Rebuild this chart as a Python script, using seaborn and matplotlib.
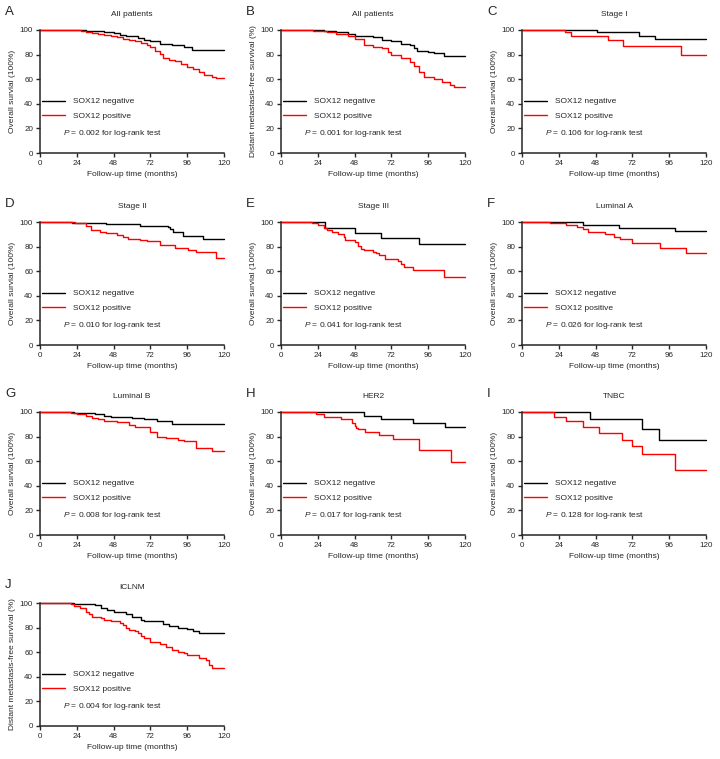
import numpy as np
import pandas as pd
import seaborn as sns
import matplotlib.pyplot as plt
from matplotlib.lines import Line2D

# step points (month, survival %); last value held to 120
A_neg_t = [0, 30, 36, 42, 48, 52, 56, 64, 68, 72, 78, 86, 94, 99]
A_neg_s = [100, 99.5, 99, 98, 97.5, 96, 95, 93.5, 92, 91, 89, 87.5, 86, 83.5]
A_pos_t = [0, 27, 30, 34, 38, 42, 46, 50, 54, 58, 62, 66, 70, 72, 75, 78, 80, 84, 88, 92, 96, 100, 104, 107, 112, 115]
A_pos_s = [100, 99.5, 98.5, 97.5, 97, 96, 95, 94, 93, 92, 91, 89.5, 87.5, 86.5, 83, 80.5, 77, 75.5, 74.5, 72, 70, 68.5, 66, 63.5, 62, 60.8]

B_neg_t = [0, 28, 36, 44, 48, 60, 66, 72, 78, 84, 87, 89, 96, 100, 106]
B_neg_s = [100, 99.5, 98.5, 97, 95.5, 94, 92, 91, 89, 87.5, 85.5, 83, 82, 81, 79]
B_pos_t = [0, 21, 24, 30, 36, 44, 48, 54, 60, 66, 70, 72, 78, 84, 87, 90, 93, 100, 105, 110, 113]
B_pos_s = [100, 99.5, 99, 98, 96.5, 95, 93, 88, 86.5, 85, 82, 80, 77.5, 74, 71, 66, 62, 60, 57.5, 55, 54]

C_neg_t = [0, 49, 76, 87]
C_neg_s = [100, 98, 95.5, 93]
C_pos_t = [0, 28, 32, 56, 66, 104]
C_pos_s = [100, 98, 95.5, 91.5, 87, 80]

D_neg_t = [0, 21, 43, 65, 83.5, 85, 87, 93, 106]
D_neg_s = [100, 99.5, 98, 97, 96, 94.5, 91.5, 89, 86.5]
D_pos_t = [0, 23, 30, 33, 39, 43, 50, 54, 57.5, 65, 69.5, 78, 88, 96.5, 102, 115]
D_pos_s = [100, 99, 96.5, 93.5, 92, 91, 89.5, 87.5, 86.5, 85.5, 84.5, 81, 79, 77.5, 76, 70.5]

E_neg_t = [0, 29, 48, 65, 90]
E_neg_s = [100, 95.5, 91, 87, 82]
E_pos_t = [0, 20, 24, 28, 30, 33, 37, 41, 42, 48, 50, 52, 54, 60, 62, 64, 68, 76, 78, 80, 86, 106]
E_pos_s = [100, 99, 97.5, 95, 93.5, 92, 90, 88, 85, 83.5, 80.5, 78, 77, 76, 74.5, 73.5, 70, 68, 66, 63.5, 61, 55.5]

F_neg_t = [0, 40, 63, 100]
F_neg_s = [100, 97.5, 95, 93]
F_pos_t = [0, 18, 24, 29, 36, 40, 43, 54, 60, 64, 72, 90, 107]
F_pos_s = [100, 99.5, 99, 97.5, 96, 94, 92, 90, 88, 86, 83, 79, 74.5]

G_neg_t = [0, 22, 30, 36, 42, 46, 60, 68, 76, 86]
G_neg_s = [100, 99.5, 99, 98, 97, 96, 95.5, 94, 92.5, 90.5]
G_pos_t = [0, 20, 24, 30, 34, 38, 42, 50, 58, 62, 72, 76, 82, 90, 94, 102, 112]
G_pos_s = [100, 99.5, 98.5, 97, 95.5, 94.5, 93, 91.5, 89.5, 87.5, 84, 80, 79, 77.5, 76.5, 70.5, 68]

H_neg_t = [0, 54, 65, 86, 107]
H_neg_s = [100, 97, 94, 91, 87.5]
H_pos_t = [0, 23, 28, 39, 46, 48, 49, 50, 55, 64, 73, 90, 111]
H_pos_s = [100, 98, 96, 94, 91, 89, 87, 86, 84, 81, 78, 69.5, 59.5]

I_neg_t = [0, 44.5, 78, 89.5]
I_neg_s = [100, 94, 86, 77.5]
I_pos_t = [0, 21, 29, 40, 50.5, 65, 72, 78, 99.5]
I_pos_s = [100, 96, 92.5, 87.5, 83, 77.5, 72, 65.5, 52.5]

J_neg_t = [0, 22, 36, 40, 44, 48, 56, 60, 66, 68, 80, 84, 90, 96, 100, 104]
J_neg_s = [100, 99, 98, 96, 94.5, 92.5, 91, 88.5, 86.5, 85, 83, 81.5, 80, 78.5, 77.5, 75.5]
J_pos_t = [0, 20, 22, 26, 30, 32, 34, 40, 42, 46, 52, 54, 56, 58, 62, 64, 66, 68, 72, 78, 82, 86, 90, 94, 96, 104, 108, 110, 112]
J_pos_s = [100, 99, 97.5, 96, 93, 91, 89, 87.5, 86, 85, 84, 82.5, 80, 78, 77, 75.5, 73, 71.5, 68, 67, 64, 62, 60, 59, 57.5, 55, 53.5, 50, 47]

letters = ["A", "B", "C", "D", "E", "F", "G", "H", "I", "J"]
titles = ["All patients", "All patients", "Stage I", "Stage II", "Stage III",
          "Luminal A", "Luminal B", "HER2", "TNBC", "ICLNM"]
ylabels = ["Overall survial (100%)", "Distant metastasis-free survival (%)"] + \
          ["Overall survial (100%)"] * 7 + ["Distant metastasis-free survival (%)"]
pvals = ["0.002", "0.001", "0.106", "0.010", "0.041", "0.026", "0.008", "0.017", "0.128", "0.004"]
curves = [(A_neg_t, A_neg_s, A_pos_t, A_pos_s), (B_neg_t, B_neg_s, B_pos_t, B_pos_s),
          (C_neg_t, C_neg_s, C_pos_t, C_pos_s), (D_neg_t, D_neg_s, D_pos_t, D_pos_s),
          (E_neg_t, E_neg_s, E_pos_t, E_pos_s), (F_neg_t, F_neg_s, F_pos_t, F_pos_s),
          (G_neg_t, G_neg_s, G_pos_t, G_pos_s), (H_neg_t, H_neg_s, H_pos_t, H_pos_s),
          (I_neg_t, I_neg_s, I_pos_t, I_pos_s), (J_neg_t, J_neg_s, J_pos_t, J_pos_s)]

sns.set_style("ticks")
plt.rcParams['font.family'] = ['Liberation Sans', 'DejaVu Sans']
plt.rcParams['mathtext.fontset'] = 'custom'
plt.rcParams['mathtext.it'] = 'Liberation Sans:italic'
plt.rcParams['mathtext.rm'] = 'Liberation Sans'

W, H = 720, 759
fig = plt.figure(figsize=(W / 100, H / 100), dpi=100)

col_left = [40, 281, 522]
row_top = [30, 222, 412, 603]
aw, ah = 184, 123
colors = {"SOX12 negative": "black", "SOX12 positive": "#ff0000"}
fs = 6

for i, (nt, ns, pt, ps) in enumerate(curves):
    r, c = divmod(i, 3)
    x0, y0 = col_left[c], row_top[r]
    ax = fig.add_axes([x0 / W, 1 - (y0 + ah) / H, aw / W, ah / H])
    df = pd.DataFrame({
        "time": nt + [120] + pt + [120],
        "surv": ns + [ns[-1]] + ps + [ps[-1]],
        "group": ["SOX12 negative"] * (len(nt) + 1) + ["SOX12 positive"] * (len(pt) + 1),
    })
    sns.lineplot(data=df, x="time", y="surv", hue="group", palette=colors,
                 estimator=None, drawstyle="steps-post", linewidth=1.0,
                 legend=False, ax=ax, clip_on=False)
    ax.set_xlim(0, 120)
    ax.set_ylim(0, 100)
    ax.set_xticks(range(0, 121, 24))
    ax.set_yticks(range(0, 101, 20))
    ax.tick_params(labelsize=5.8, length=3, width=1, pad=2)
    for s in ["left", "bottom"]:
        ax.spines[s].set_linewidth(1.1)
    sns.despine(ax=ax)
    ax.set_xlabel("Follow-up time (months)", fontsize=fs, labelpad=3)
    ax.set_ylabel(ylabels[i], fontsize=fs, labelpad=3)
    ax.set_title(titles[i], fontsize=fs, pad=10)
    handles = [Line2D([], [], color="black", lw=1.0), Line2D([], [], color="#ff0000", lw=1.0)]
    ax.legend(handles, ["SOX12 negative", "SOX12 positive"], loc="upper left",
              bbox_to_anchor=(0.01, 0.45), frameon=False, fontsize=fs,
              handlelength=2.8, handletextpad=0.9, labelspacing=0.75,
              borderpad=0, borderaxespad=0)
    ax.text(0.125, 0.16, r"$\it{P}$ = " + pvals[i] + " for log-rank test",
            transform=ax.transAxes, fontsize=fs, va="center")
    fig.text((x0 - 35) / W, 1 - (y0 - 18) / H, letters[i], fontsize=9.5,
             va="center", ha="left")

fig.savefig("out.png", dpi=100)
